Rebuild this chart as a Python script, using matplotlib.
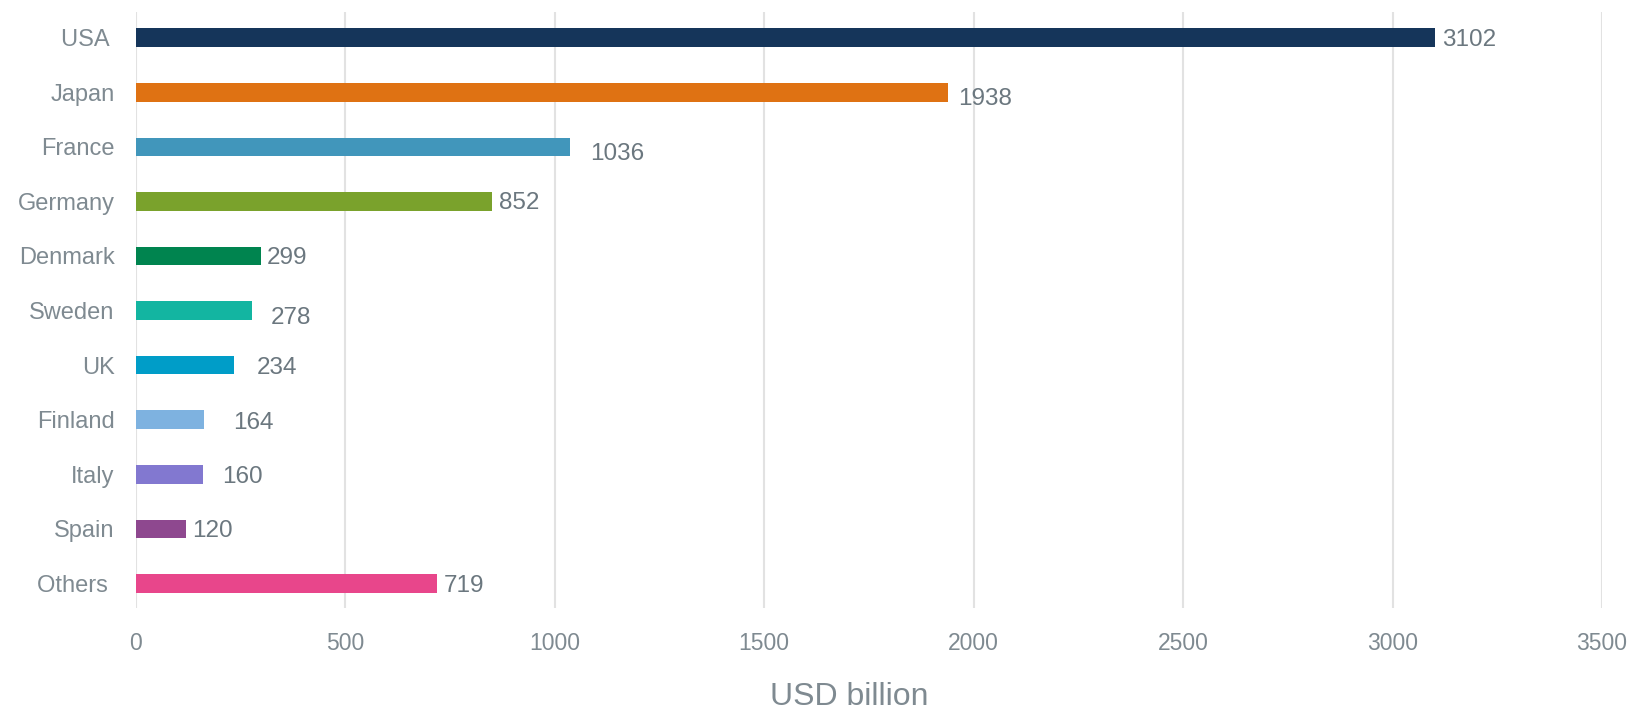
import matplotlib
matplotlib.use("Agg")
import matplotlib.pyplot as plt

countries = ["USA ", "Japan", "France", "Germany", "Denmark", "Sweden", "UK",
             "Finland", "Italy", "Spain", "Others "]
values = [3102, 1938, 1036, 852, 299, 278, 234, 164, 160, 120, 719]
colors = ["#15355a", "#df7213", "#4196bb", "#7aa22c", "#00844f", "#13b5a1",
          "#009dc8", "#7eb2e0", "#8278d0", "#8e488f", "#e8468b"]
x_ticks = [0, 500, 1000, 1500, 2000, 2500, 3000, 3500]

# label offsets (pixels right, pixels down) as seen in the reference
label_dx = [7, 11, 21, 7, 6, 19, 23, 29, 20, 6, 7]
label_dy = [0, 5, 5, 0, 0, 5, 1, 1, 1, 0, 1]

plt.rcParams['font.family'] = ['Liberation Sans', 'DejaVu Sans']

fig = plt.figure(figsize=(16.36, 7.11), dpi=100)
ax = fig.add_axes([135.5 / 1636, 1 - 608 / 711, (1602 - 135.5) / 1636, (608 - 12) / 711])

y = list(range(len(countries)))
ax.barh(y, values, height=0.34, color=colors, zorder=3)

for yi, v, dx, dy in zip(y, values, label_dx, label_dy):
    ax.annotate(str(v), xy=(v, yi), xytext=(dx * 0.72, -(dy + 2) * 0.72),
                textcoords="offset points", va="center", ha="left",
                fontsize=17.5, color="#6b777f", zorder=4)

ax.set_xlim(0, 3500)
ax.set_ylim(10.45, -0.47)
ax.set_xticks(x_ticks)
ax.set_xticklabels([str(t) for t in x_ticks])
ax.set_yticks(y)
ax.set_yticklabels(countries)
ax.tick_params(axis="y", length=0, labelsize=17, labelcolor="#7f8a91", pad=15)
ax.tick_params(axis="x", length=0, labelsize=16.5, labelcolor="#7f8a91", pad=17)
ax.xaxis.grid(True, color="#e2e2e2", linewidth=1.5, zorder=0)
ax.yaxis.grid(False)
for s in ax.spines.values():
    s.set_visible(False)
ax.set_xlabel("USD billion", fontsize=23, color="#7f8a91", va="center")
ax.xaxis.set_label_coords(0.487, -0.149)

fig.savefig("out.png", dpi=100, facecolor="white")
